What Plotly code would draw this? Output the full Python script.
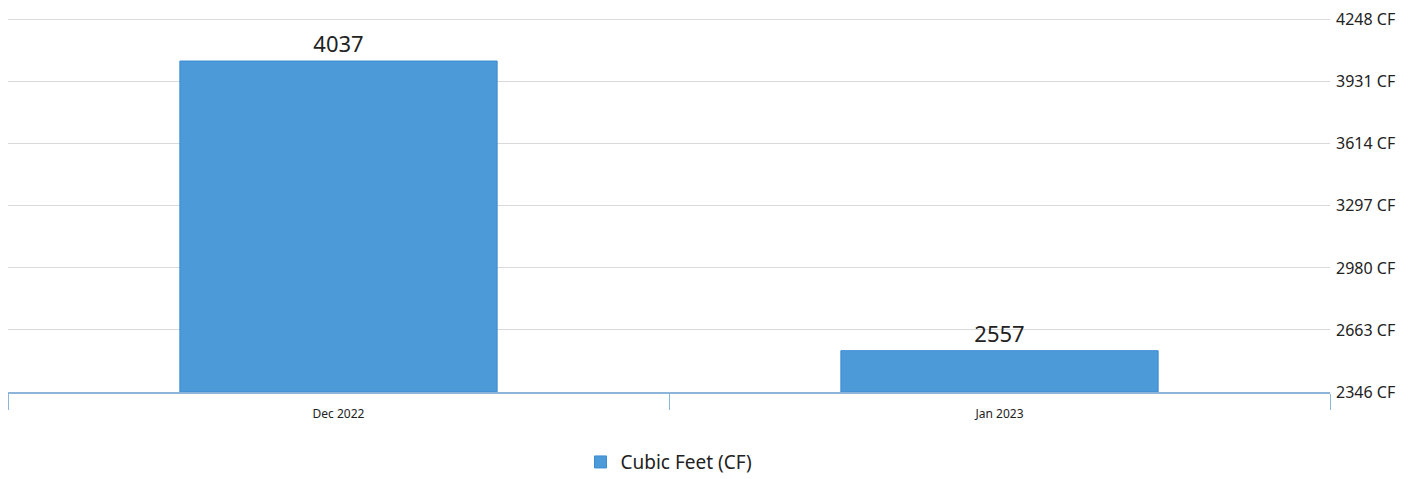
import plotly.graph_objects as go

categories = ["Dec 2022", "Jan 2023"]
values = [4037, 2557]
tick_values = [2346, 2663, 2980, 3297, 3614, 3931, 4248]
tick_labels = [f"{v} CF" for v in tick_values]

axis_min = tick_values[0]
heights = [v - axis_min for v in values]

fig = go.Figure()
fig.add_trace(go.Bar(
    x=categories,
    y=heights,
    base=axis_min,
    name="Cubic Feet (CF)",
    marker=dict(color="#4d9ad9", line=dict(color="#3a8bd2", width=1)),
    text=[str(v) for v in values],
    textposition="outside",
    textfont=dict(size=22, color="#222222", family="Noto Sans"),
    cliponaxis=False,
    width=0.48,
))

fig.update_layout(
    width=1421, height=479,
    margin=dict(l=8, r=91, t=17, b=87, autoexpand=False),
    paper_bgcolor="white", plot_bgcolor="white",
    font=dict(family="Noto Sans", color="#222222"),
    showlegend=True,
    legend=dict(orientation="h", x=0.5, xanchor="center",
                yref="container", y=0.075, yanchor="top",
                font=dict(size=19, color="#222222")),
)
fig.update_xaxes(
    type="category",
    showline=True, linecolor="#8db4d9", linewidth=1.5,
    ticks="outside", tickson="boundaries", ticklen=16, tickcolor="#8db4d9",
    tickfont=dict(size=12, color="#222222"),
    ticklabelstandoff=10,
    showgrid=False, automargin=False,
)
fig.update_yaxes(
    side="right",
    range=[tick_values[0], tick_values[-1] + 14],
    tickvals=tick_values,
    ticktext=tick_labels,
    tickfont=dict(size=16, color="#222222"),
    ticklabelstandoff=5,
    showgrid=True, gridcolor="#d9d9d9", gridwidth=1,
    zeroline=False, ticks="", showline=False, automargin=False,
)

fig.write_html("out.html")
